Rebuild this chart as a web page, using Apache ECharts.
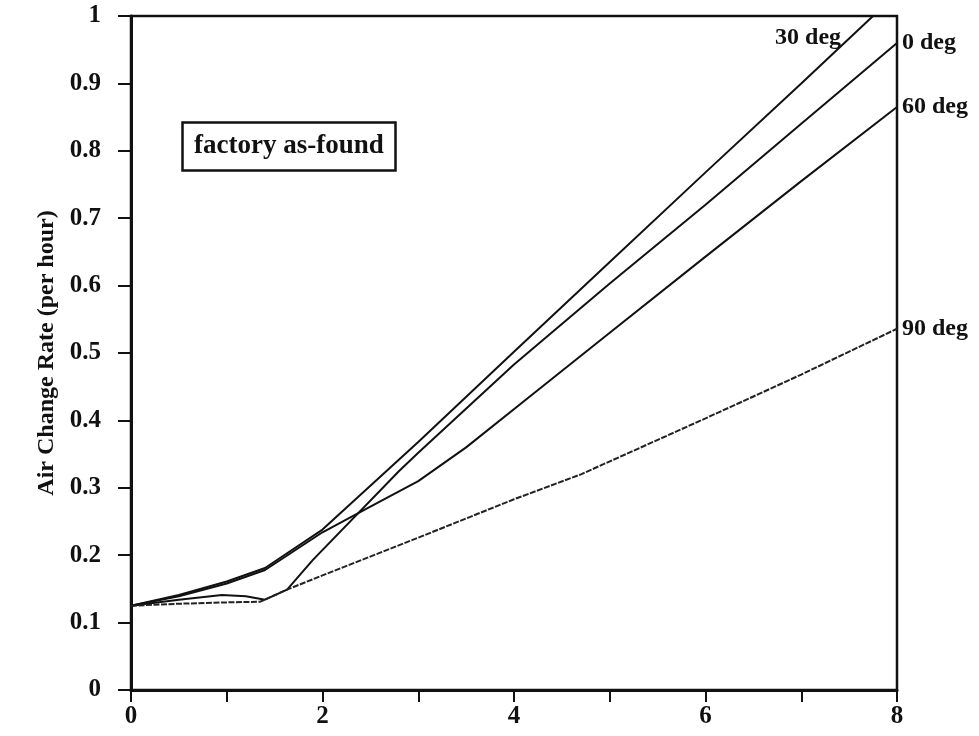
<!DOCTYPE html>
<html>
<head>
<meta charset="utf-8">
<script src="https://cdn.jsdelivr.net/npm/echarts@6/dist/echarts.min.js"></script>
<style>
  html, body { margin: 0; padding: 0; background: #fff; }
  #chart { width: 979px; height: 736px; }
</style>
</head>
<body>
<div id="chart"></div>
<script>
// Air change rate versus wind speed, one curve per wind angle
const deg0X  = [0, 0.5, 0.95, 1.2, 1.4, 1.63, 1.9, 2.8, 3, 4, 5, 6, 7, 8];
const deg0Y  = [0.125, 0.134, 0.141, 0.139, 0.134, 0.149, 0.193, 0.325, 0.352, 0.483, 0.603, 0.72, 0.84, 0.96];

const deg30X = [0, 0.5, 1, 1.4, 2, 3, 4, 5, 6, 7, 7.75];
const deg30Y = [0.125, 0.141, 0.161, 0.181, 0.238, 0.368, 0.502, 0.635, 0.768, 0.9, 1.0];

const deg60X = [0, 0.5, 1, 1.4, 2, 2.5, 3, 3.5, 4.1, 5, 6, 7, 8];
const deg60Y = [0.125, 0.139, 0.158, 0.178, 0.234, 0.272, 0.31, 0.36, 0.428, 0.53, 0.643, 0.755, 0.865];

const deg90X = [0, 0.5, 1, 1.35, 1.63, 2, 3, 4, 4.7, 6, 7, 8];
const deg90Y = [0.125, 0.128, 0.13, 0.131, 0.149, 0.17, 0.226, 0.283, 0.32, 0.403, 0.468, 0.536];

const seriesNames = ['0 deg', '30 deg', '60 deg', '90 deg'];
const boxText = 'factory as-found';
const yAxisTitle = 'Air Change Rate (per hour)';

const FONT = '"Liberation Serif", "Times New Roman", serif';
const INK = '#111';
const LABEL_SIZE = 24;

function pairs(xs, ys) {
  return xs.map((x, i) => [x, ys[i]]);
}

function endLabel(name, extra) {
  return Object.assign({
    show: true,
    formatter: name,
    distance: 5,
    color: INK,
    fontFamily: FONT,
    fontWeight: 'bold',
    fontSize: LABEL_SIZE
  }, extra || {});
}

function curve(name, xs, ys, extra) {
  return Object.assign({
    name: name,
    type: 'line',
    data: pairs(xs, ys),
    showSymbol: false,
    symbol: 'none',
    lineStyle: { color: INK, width: 2 },
    endLabel: endLabel(name),
    z: 3
  }, extra || {});
}

const chart = echarts.init(document.getElementById('chart'), null, { renderer: 'canvas' });

chart.setOption({
  animation: false,
  backgroundColor: '#fff',
  grid: {
    left: 131, right: 82, top: 16, bottom: 46,
    show: true,
    borderColor: INK,
    borderWidth: 2.5,
    backgroundColor: 'transparent'
  },
  title: {
    text: boxText,
    left: 182,
    top: 122,
    padding: [11, 12, 11, 12],
    borderColor: INK,
    borderWidth: 2.5,
    textStyle: {
      fontFamily: FONT,
      fontWeight: 'bold',
      fontSize: 27,
      color: INK
    }
  },
  xAxis: {
    type: 'value',
    min: 0,
    max: 8,
    interval: 1,
    axisLine: { show: true, lineStyle: { color: INK, width: 3 } },
    axisTick: { show: true, inside: false, length: 12, lineStyle: { color: INK, width: 2 } },
    splitLine: { show: false },
    axisLabel: {
      margin: 14,
      color: INK,
      fontFamily: FONT,
      fontWeight: 'bold',
      fontSize: 25,
      formatter: v => (v % 2 === 0 ? String(v) : '')
    }
  },
  yAxis: {
    type: 'value',
    min: 0,
    max: 1,
    interval: 0.1,
    name: yAxisTitle,
    nameLocation: 'middle',
    nameGap: 38,
    nameRotate: 90,
    nameTextStyle: {
      color: INK,
      fontFamily: FONT,
      fontWeight: 'bold',
      fontSize: 24
    },
    axisLine: { show: true, lineStyle: { color: INK, width: 3 } },
    axisTick: { show: true, inside: false, length: 13, lineStyle: { color: INK, width: 2 } },
    splitLine: { show: false },
    axisLabel: {
      margin: 30,
      color: INK,
      fontFamily: FONT,
      fontWeight: 'bold',
      fontSize: 25,
      formatter: v => String(Math.round(v * 10) / 10)
    }
  },
  series: [
    curve(seriesNames[0], deg0X, deg0Y),
    curve(seriesNames[1], deg30X, deg30Y, {
      endLabel: endLabel(seriesNames[1], { align: 'right', offset: [-37, 22] })
    }),
    curve(seriesNames[2], deg60X, deg60Y),
    curve(seriesNames[3], deg90X, deg90Y, {
      lineStyle: { color: '#222', width: 2, type: [6, 1.5] }
    })
  ]
});
</script>
</body>
</html>
